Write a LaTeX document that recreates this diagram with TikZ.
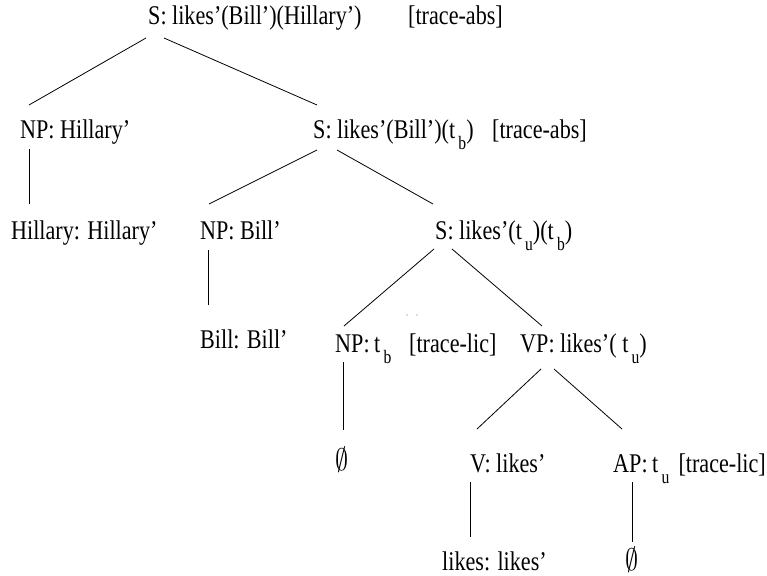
\documentclass[tikz,border=0pt]{standalone}
\usepackage{fontspec}
\setmainfont{Liberation Serif}[FakeStretch=0.82]
% lowered index on a trace variable
\newcommand{\tsub}[1]{\hspace{0.12em}\raisebox{-11pt}{\fontsize{19}{19}\selectfont #1}}
% tall empty-category mark
\newcommand{\emptymark}{\scalebox{1.05}[1.25]{$\emptyset$}}
\begin{document}
\begin{tikzpicture}[x=1pt,y=-1pt,
  lbl/.style={anchor=base west, inner sep=0pt, font=\fontsize{27}{27}\selectfont},
  edge/.style={line width=0.8pt}]
\useasboundingbox (0,0) rectangle (767,575);

% tree labels
\node[lbl] (root)   at (148,25)  {S: likes'(Bill')(Hillary')};
\node[lbl] (tr0)    at (408,25)  {[trace-abs]};
\node[lbl] (np1)    at (20,138)  {NP: Hillary'};
\node[lbl] (s2)     at (313,138) {S: likes'(Bill')(t\tsub{b})};
\node[lbl] (tr1)    at (492,138) {[trace-abs]};
\node[lbl] (hil)    at (11,239)  {Hillary: Hillary'};
\node[lbl] (np2)    at (200,239) {NP: Bill'};
\node[lbl] (s3)     at (435,239) {S: likes'(t\tsub{u})(t\tsub{b})};
\node[lbl] (bill)   at (200,348) {Bill: Bill'};
\node[lbl] (np3)    at (335,352) {NP:\,t\tsub{b}};
\node[lbl] (tr3)    at (409,352) {[trace-lic]};
\node[lbl] (vp)     at (520,352) {VP: likes'( t\tsub{u})};
\node[lbl] (emp1)   at (335,470) {\emptymark};
\node[lbl] (v)      at (470,472) {V: likes'};
\node[lbl] (ap)     at (613,472) {AP:\,t\tsub{u}};
\node[lbl,anchor=base east] (tr4) at (766,472) {[trace-lic]};
\node[lbl] (likesn) at (442,570) {likes: likes'};
\node[lbl] (emp2)   at (625,570) {\emptymark};

% branches
\draw[edge] ([shift={(-2,13)}]root.base west) -- ([shift={(9,-33)}]np1.base west);
\draw[edge] ([shift={(16,13)}]root.base west) -- ([shift={(4,-33)}]s2.base west);
\draw[edge] ([shift={(9,11)}]np1.base west) -- ([shift={(18,-35)}]hil.base west);
\draw[edge] ([shift={(4,12)}]s2.base west) -- ([shift={(9,-35)}]np2.base west);
\draw[edge] ([shift={(24,12)}]s2.base west) -- ([shift={(-2,-35)}]s3.base west);
\draw[edge] ([shift={(8,11)}]np2.base west) -- ([shift={(8,-43)}]bill.base west);
\draw[edge] ([shift={(-1,10)}]s3.base west) -- ([shift={(9,-26)}]np3.base west);
\draw[edge] ([shift={(17,10)}]s3.base west) -- ([shift={(22,-26)}]vp.base west);
\draw[edge] ([shift={(8,10)}]np3.base west) -- ([shift={(8,-40)}]emp1.base west);
\draw[edge] ([shift={(21,17)}]vp.base west) -- ([shift={(7,-43)}]v.base west);
\draw[edge] ([shift={(34,17)}]vp.base west) -- ([shift={(9,-43)}]ap.base west);
\draw[edge] ([shift={(0,10)}]v.base west) -- ([shift={(28,-33)}]likesn.base west);
\draw[edge] ([shift={(19,10)}]ap.base west) -- ([shift={(7,-28)}]emp2.base west);

% two stray specks between the NP and VP branches
\fill[black!60] (407,315) circle (0.6);
\fill[black!60] (417,315) circle (0.6);
\end{tikzpicture}
\end{document}
